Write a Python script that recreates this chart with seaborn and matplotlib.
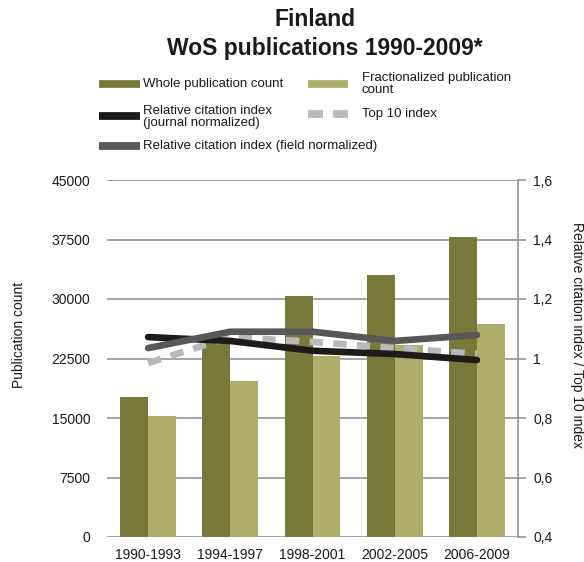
import numpy as np
import pandas as pd
import matplotlib
matplotlib.use('Agg')
import matplotlib.pyplot as plt
from matplotlib.lines import Line2D
import seaborn as sns

# data
periods = ['1990-1993', '1994-1997', '1998-2001', '2002-2005', '2006-2009']
whole_count = [17700, 24600, 30400, 33000, 37800]
fract_count = [15200, 19700, 22800, 24200, 26800]
rci_journal = [1.072, 1.059, 1.026, 1.015, 0.995]
rci_field = [1.035, 1.090, 1.090, 1.059, 1.079]
top10 = [0.985, 1.072, 1.056, 1.035, 1.015]

left_ticks = [0, 7500, 15000, 22500, 30000, 37500, 45000]
right_ticks = [0.4, 0.6, 0.8, 1.0, 1.2, 1.4, 1.6]
right_labels = ['0,4', '0,6', '0,8', '1', '1,2', '1,4', '1,6']

c_whole = '#787838'
c_fract = '#aeae6a'
c_journal = '#1e1a18'
c_field = '#58585a'
c_top10 = '#b9b9bd'
c_grid = '#8c8c8c'
c_text = '#1a1a1a'

sns.set_style('white')
plt.rcParams['font.family'] = ['Liberation Sans', 'DejaVu Sans']

W, H = 584, 562
fig = plt.figure(figsize=(W / 100, H / 100), dpi=100)
ax = fig.add_axes([107 / W, 1 - 537 / H, (518 - 107) / W, (537 - 180) / H])

df = pd.DataFrame({
    'period': periods * 2,
    'kind': ['Whole'] * len(periods) + ['Fractionalized'] * len(periods),
    'count': whole_count + fract_count,
})
sns.barplot(data=df, x='period', y='count', hue='kind',
            palette=[c_whole, c_fract], width=0.68, gap=0, linewidth=0,
            saturation=1, legend=False, ax=ax, zorder=2)

ax.set_ylim(0, 45000)
ax.set_xlim(-0.5, 4.5)
ax.set_yticks(left_ticks)
ax.set_yticklabels([str(t) for t in left_ticks])
ax.yaxis.grid(True, color=c_grid, lw=1.1)
ax.set_axisbelow(True)
for s in ['top', 'left', 'bottom', 'right']:
    ax.spines[s].set_visible(False)
ax.tick_params(axis='y', length=0, pad=12, labelsize=10, labelcolor=c_text)
ax.tick_params(axis='x', length=0, pad=8, labelsize=10, labelcolor=c_text)
ax.set_xlabel('')
ax.set_ylabel('Publication count', fontsize=10, color=c_text)
ax.yaxis.set_label_coords(-0.197, 0.565)

ax2 = ax.twinx()
xs = np.arange(len(periods))
sns.lineplot(x=xs, y=top10, color=c_top10, lw=4.8, ax=ax2, zorder=3)
ax2.lines[-1].set_dashes([2.0, 1.55])
ax2.lines[-1].set_dash_capstyle('butt')
sns.lineplot(x=xs, y=rci_journal, color=c_journal, lw=4.8, ax=ax2, zorder=4)
sns.lineplot(x=xs, y=rci_field, color=c_field, lw=4.8, ax=ax2, zorder=5)
ax2.set_ylim(0.4, 1.6)
ax2.set_xlim(-0.5, 4.5)
ax2.set_yticks(right_ticks)
ax2.set_yticklabels(right_labels)
for s in ['top', 'left', 'bottom']:
    ax2.spines[s].set_visible(False)
ax2.spines['right'].set_color(c_grid)
ax2.spines['right'].set_linewidth(1.1)
ax2.tick_params(axis='y', length=6, width=1.1, color=c_grid, pad=5,
                labelsize=10, labelcolor=c_text)
ax2.set_ylabel('Relative citation index / Top 10 index', fontsize=10,
               rotation=-90, color=c_text)
ax2.yaxis.set_label_coords(1.16, 0.565)


def fx(x):
    return x / W


def fy(y):
    return 1 - y / H


# titles
fig.text(fx(315), fy(20), 'Finland', ha='center', va='center',
         fontsize=16.5, fontweight='bold', color=c_text)
fig.text(fx(325), fy(48), 'WoS publications 1990-2009*', ha='center',
         va='center', fontsize=16.5, fontweight='bold', color=c_text)

# legend, drawn by hand to keep the rows lined up
def handle(x0, x1, y, color, dashes=None):
    ln = Line2D([fx(x0), fx(x1)], [fy(y), fy(y)], transform=fig.transFigure,
                color=color, lw=5.6, solid_capstyle='butt')
    if dashes:
        ln.set_dashes(dashes)
        ln.set_dash_capstyle('butt')
    fig.add_artist(ln)


fs_leg = 9.5
handle(99, 140, 84, c_whole)
fig.text(fx(143), fy(84), 'Whole publication count', va='center',
         fontsize=fs_leg, color=c_text)
handle(308, 348, 84, c_fract)
fig.text(fx(362), fy(84), 'Fractionalized publication\ncount', va='center',
         fontsize=fs_leg, linespacing=0.9, color=c_text)
handle(99, 140, 116, c_journal)
fig.text(fx(143), fy(117), 'Relative citation index\n(journal normalized)',
         va='center', fontsize=fs_leg, linespacing=0.9, color=c_text)
handle(308, 348, 114, c_top10, dashes=[1.93, 1.29])
fig.text(fx(362), fy(114), 'Top 10 index', va='center', fontsize=fs_leg,
         color=c_text)
handle(99, 140, 146, c_field)
fig.text(fx(143), fy(146), 'Relative citation index (field normalized)',
         va='center', fontsize=fs_leg, color=c_text)

fig.savefig('out.png', dpi=100)
